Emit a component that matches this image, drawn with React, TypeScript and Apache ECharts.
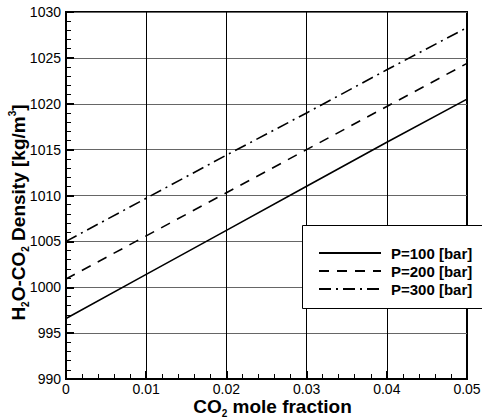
import React, { useEffect, useRef } from "react";
import * as echarts from "echarts";

const xValues = [0, 0.01, 0.02, 0.03, 0.04, 0.05];
const p100 = [996.6, 1001.4, 1006.2, 1011.0, 1015.8, 1020.5];
const p200 = [1000.9, 1005.6, 1010.3, 1015.0, 1019.7, 1024.4];
const p300 = [1005.0, 1009.7, 1014.4, 1019.0, 1023.7, 1028.3];
const seriesNames = ["P=100 [bar]", "P=200 [bar]", "P=300 [bar]"];

const FONT = "'Liberation Sans', Arial, Helvetica, sans-serif";

export default function App() {
  const ref = useRef<HTMLDivElement>(null);
  useEffect(() => {
    if (!ref.current) return;
    const chart = echarts.init(ref.current, null, { renderer: "svg" });
    const mk = (vals: number[]) => xValues.map((x, i) => [x, vals[i]]);
    const titleRich = {
      b: { fontSize: 19, fontWeight: "bold", fontFamily: FONT, color: "#000", lineHeight: 19 },
      sub: { fontSize: 10, fontWeight: "bold", fontFamily: FONT, color: "#000", verticalAlign: "bottom", lineHeight: 23 },
      sup: { fontSize: 10, fontWeight: "bold", fontFamily: FONT, color: "#000", verticalAlign: "top", lineHeight: 23 },
    };
    chart.setOption({
      animation: false,
      backgroundColor: "#fff",
      grid: {
        left: 66,
        top: 12,
        right: 15,
        bottom: 40,
        containLabel: false,
        outerBoundsMode: "none",
        show: true,
        borderColor: "#000",
        borderWidth: 2,
        backgroundColor: "transparent",
      },
      legend: {
        orient: "vertical",
        left: 313,
        top: 240,
        itemWidth: 62,
        itemHeight: 10,
        itemGap: 2,
        itemStyle: { color: "transparent", borderWidth: 0, opacity: 0 },
        textStyle: { fontFamily: FONT, fontWeight: "bold", fontSize: 15, lineHeight: 16, color: "#000", padding: [0, 0, 0, 5] },
        data: seriesNames,
        z: 10,
      },
      graphic: [
        {
          type: "rect",
          shape: { x: 302.5, y: 225.5, width: 200, height: 83 },
          style: { fill: "#fff", stroke: "#000", lineWidth: 1 },
          z: 5,
        },
      ],
      xAxis: {
        type: "value",
        min: 0,
        max: 0.05,
        interval: 0.01,
        name: "{b|CO}{sub|2}{b| mole fraction}",
        nameLocation: "middle",
        nameGap: 16,
        nameMoveOverlap: false,
        nameTextStyle: { rich: titleRich, padding: [0, 0, 0, 12] },
        axisLine: { show: true, lineStyle: { color: "#000", width: 2 } },
        axisTick: { show: true, inside: true, length: 8, lineStyle: { color: "#000", width: 2 } },
        minorTick: { show: true, splitNumber: 5, length: 5, lineStyle: { color: "#000", width: 1 } },
        axisLabel: {
          fontFamily: FONT,
          fontSize: 14,
          lineHeight: 12,
          color: "#000",
          margin: 4,
          formatter: (v: number) => (v === 0 ? "0" : v.toFixed(2)),
        },
        splitLine: { show: true, lineStyle: { color: "#000", width: 1 } },
      },
      yAxis: {
        type: "value",
        min: 990,
        max: 1030,
        interval: 5,
        name: "{b|H}{sub|2}{b|O-CO}{sub|2}{b| Density [kg/m}{sup|3}{b|]}",
        nameLocation: "middle",
        nameGap: 36,
        nameRotate: 90,
        nameMoveOverlap: false,
        nameTextStyle: { rich: titleRich, padding: [0, 0, 0, -34] },
        axisLine: { show: true, lineStyle: { color: "#000", width: 2 } },
        axisTick: { show: true, inside: true, length: 8, lineStyle: { color: "#000", width: 2 } },
        minorTick: { show: true, splitNumber: 5, length: 5, lineStyle: { color: "#000", width: 1 } },
        axisLabel: { fontFamily: FONT, fontSize: 14, color: "#000", margin: 5, formatter: (v: number) => String(v) },
        splitLine: { show: true, lineStyle: { color: "#666", width: 1 } },
      },
      series: [
        {
          name: seriesNames[0],
          type: "line",
          data: mk(p100),
          symbol: "none",
          lineStyle: { color: "#000", width: 1.6, type: "solid" },
          itemStyle: { color: "#000" },
        },
        {
          name: seriesNames[1],
          type: "line",
          data: mk(p200),
          symbol: "none",
          lineStyle: { color: "#000", width: 1.6, type: [10, 8] },
          itemStyle: { color: "#000" },
        },
        {
          name: seriesNames[2],
          type: "line",
          data: mk(p300),
          symbol: "none",
          lineStyle: { color: "#000", width: 1.6, type: [12, 5, 2, 5] },
          itemStyle: { color: "#000" },
        },
      ],
    });
    return () => chart.dispose();
  }, []);
  return (
    <div
      ref={ref}
      style={{ position: "fixed", left: 0, top: 0, width: 482, height: 419, background: "#fff" }}
    />
  );
}
